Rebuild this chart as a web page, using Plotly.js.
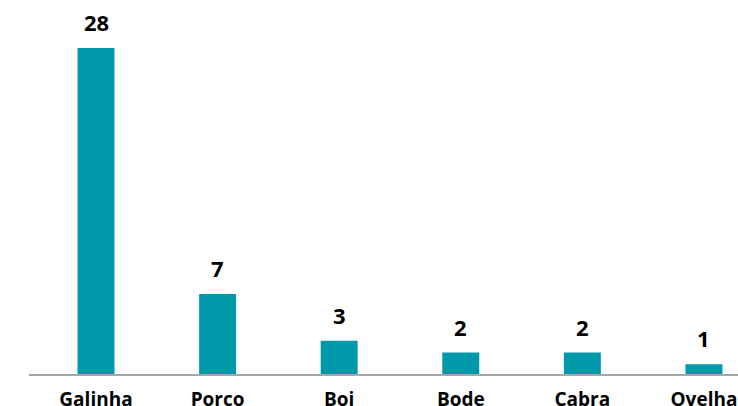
<!DOCTYPE html>
<html><head><meta charset="utf-8">
<script src="https://cdn.plot.ly/plotly-3.0.1.min.js"></script>
<style>html,body{margin:0;padding:0;background:#fff}#c{width:738px;height:406px}</style>
</head><body><div id="c"></div>
<script>
const categories = ["Galinha","Porco","Boi","Bode","Cabra","Ovelha"];
const values = [28,7,3,2,2,1];
const barColor = "#0099aa";

const annotations = categories.map((c,i)=>({
  x: c, y: values[i], xref:'x', yref:'y', text: String(values[i]),
  showarrow:false, yanchor:'bottom', yshift:9,
  font:{family:'"Open Sans", sans-serif', size:22, color:'#000', weight:700}
}));

Plotly.newPlot('c', [{
  type:'bar', x:categories, y:values, width:0.304,
  marker:{color:barColor}, hoverinfo:'none'
}], {
  width:738, height:406,
  margin:{l:29, r:0, t:0, b:30},
  paper_bgcolor:'#fff', plot_bgcolor:'#fff',
  showlegend:false,
  xaxis:{type:'category', range:[-0.551,5.28], showgrid:false, zeroline:false, showline:false,
    ticks:'', ticklabelstandoff:10,
    tickfont:{family:'"Open Sans", sans-serif', size:19, color:'#000', weight:700}},
  yaxis:{range:[0,32.1], visible:false},
  shapes:[{type:'line', xref:'paper', yref:'y', x0:0, x1:1, y0:0, y1:0, layer:'above',
    line:{color:'#a7a7a9', width:4}}],
  annotations: annotations
}, {staticPlot:true});
</script></body></html>
